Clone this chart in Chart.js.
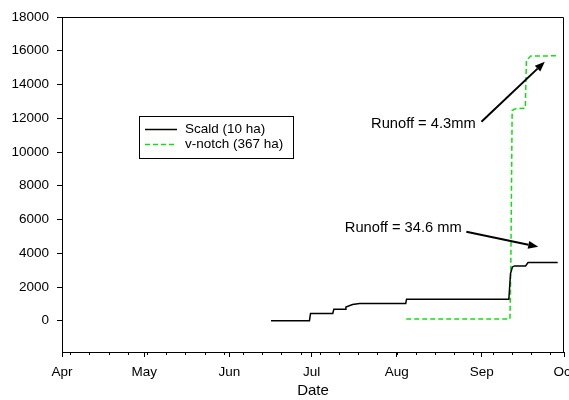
<!DOCTYPE html>
<html>
<head>
<meta charset="utf-8">
<script src="https://cdn.jsdelivr.net/npm/chart.js@4.4.1/dist/chart.umd.min.js"></script>
<style>
  html, body { margin: 0; padding: 0; background: #fff; }
</style>
</head>
<body>
<canvas id="chart" width="569" height="400"></canvas>
<script>
// x values are days counted from 1 April
const monthDays = [0, 30, 61, 91, 122, 153, 183];
const monthLabels = ['Apr', 'May', 'Jun', 'Jul', 'Aug', 'Sep', 'Oct'];
const weekDays = [3, 10, 17, 24, 31, 38, 45, 52, 59, 66, 73, 80, 87, 94, 101, 108, 115, 122, 129, 136, 143, 150, 157, 164, 171, 178];
const yTicks = [0, 2000, 4000, 6000, 8000, 10000, 12000, 14000, 16000, 18000];

const scaldDays   = [76.2, 90.2, 90.6, 98.7, 99.1, 103.2, 103.5, 105.9, 108.5, 125.3, 125.6, 162.9, 163.5, 164.2, 165.0, 169.0, 169.9, 180.7];
const scaldVolume = [0,    0,    430,  430,  680,  680,   820,   960,   1020,  1020,  1275,  1275,  2800,  3190,  3250,  3250,  3450,  3450];

const vnotchDays   = [125.5, 163.3, 163.6, 164.1, 165.3, 168.9, 169.3, 170.9, 180.9];
const vnotchVolume = [100,   100,   3000,  12460, 12560, 12600, 15430, 15690, 15700];

const notes = [
  { text: 'Runoff = 4.3mm',   at: [150.8, 11650], from: [152.9, 11790], to: [176.0, 15350] },
  { text: 'Runoff = 34.6 mm', at: [145.7, 5530],  from: [147.4, 5270],  to: [173.6, 4380] },
];

const FONT = '"Liberation Sans", Arial, sans-serif';

function pts(xs, ys) {
  return xs.map((x, i) => ({ x: x, y: ys[i] }));
}

function arrow(ctx, x1, y1, x2, y2) {
  const ang = Math.atan2(y2 - y1, x2 - x1);
  const len = 10, half = 4;
  const bx = x2 - len * Math.cos(ang), by = y2 - len * Math.sin(ang);
  ctx.beginPath();
  ctx.moveTo(x1, y1);
  ctx.lineTo(bx, by);
  ctx.stroke();
  ctx.beginPath();
  ctx.moveTo(x2, y2);
  ctx.lineTo(bx + half * Math.sin(ang), by - half * Math.cos(ang));
  ctx.lineTo(bx - half * Math.sin(ang), by + half * Math.cos(ang));
  ctx.closePath();
  ctx.fill();
}

const overlay = {
  id: 'overlay',
  afterDatasetsDraw(chart) {
    const { ctx, chartArea: a, scales: { x, y } } = chart;
    ctx.save();
    ctx.strokeStyle = '#000';
    ctx.fillStyle = '#000';
    ctx.lineWidth = 1;

    // top and right frame
    ctx.beginPath();
    ctx.moveTo(a.left, a.top + 0.5);
    ctx.lineTo(a.right - 0.5, a.top + 0.5);
    ctx.lineTo(a.right - 0.5, a.bottom);
    ctx.stroke();

    // minor weekly ticks
    ctx.beginPath();
    weekDays.forEach(d => {
      const px = Math.round(x.getPixelForValue(d)) + 0.5;
      ctx.moveTo(px, a.bottom);
      ctx.lineTo(px, a.bottom + 3);
    });
    ctx.stroke();

    // runoff notes
    ctx.font = '14.7px ' + FONT;
    ctx.textAlign = 'right';
    ctx.textBaseline = 'middle';
    ctx.lineWidth = 2;
    notes.forEach(n => {
      ctx.fillText(n.text, x.getPixelForValue(n.at[0]), y.getPixelForValue(n.at[1]));
      arrow(ctx,
        x.getPixelForValue(n.from[0]), y.getPixelForValue(n.from[1]),
        x.getPixelForValue(n.to[0]), y.getPixelForValue(n.to[1]));
    });

    // legend box
    const lx = a.left + 77, ly = a.top + 99, lw = 154, lh = 42;
    ctx.lineWidth = 1;
    ctx.fillStyle = '#fff';
    ctx.fillRect(lx, ly, lw, lh);
    ctx.strokeStyle = '#000';
    ctx.strokeRect(lx + 0.5, ly + 0.5, lw, lh);
    ctx.font = '13.5px ' + FONT;
    ctx.textAlign = 'left';
    chart.data.datasets.forEach((ds, i) => {
      const rowY = ly + 13.5 + i * 15;
      ctx.strokeStyle = ds.borderColor;
      ctx.lineWidth = ds.borderWidth;
      ctx.setLineDash(ds.borderDash || []);
      ctx.beginPath();
      ctx.moveTo(lx + 6, rowY);
      ctx.lineTo(lx + 38, rowY);
      ctx.stroke();
      ctx.setLineDash([]);
      ctx.fillStyle = '#000';
      ctx.fillText(ds.label, lx + 46, rowY);
    });
    ctx.restore();
  }
};

const ctx = document.getElementById('chart').getContext('2d');
const chart = new Chart(ctx, {
  type: 'line',
  data: {
    datasets: [
      {
        label: 'Scald (10 ha)',
        data: pts(scaldDays, scaldVolume),
        borderColor: '#000000',
        borderWidth: 1.5,
        pointRadius: 0,
        tension: 0,
      },
      {
        label: 'v-notch (367 ha)',
        data: pts(vnotchDays, vnotchVolume),
        borderColor: '#10e010',
        borderWidth: 1.5,
        borderDash: [5, 3],
        pointRadius: 0,
        tension: 0,
      },
    ],
  },
  options: {
    responsive: false,
    animation: false,
    devicePixelRatio: 1,
    layout: { padding: { top: 17, right: 5, left: 0, bottom: 0 } },
    plugins: { legend: { display: false }, tooltip: { enabled: false } },
    scales: {
      x: {
        type: 'linear',
        min: 0,
        max: 183,
        afterBuildTicks: s => { s.ticks = monthDays.map(v => ({ value: v })); },
        afterFit: s => { s.height = 48; s.paddingLeft = 0; s.paddingRight = 0; },
        ticks: {
          autoSkip: false,
          maxRotation: 0,
          padding: 7,
          color: '#000',
          font: { family: FONT, size: 13.5 },
          callback: (v, i) => monthLabels[i],
        },
        grid: { drawOnChartArea: false, tickLength: 5, tickColor: '#000' },
        border: { color: '#000', width: 1 },
        title: {
          display: true,
          text: 'Date',
          color: '#000',
          font: { family: FONT, size: 15 },
          padding: { top: 0, bottom: 0 },
        },
      },
      y: {
        min: -1850,
        max: 18000,
        afterBuildTicks: s => { s.ticks = yTicks.map(v => ({ value: v })); },
        afterFit: s => { s.width = 62; s.paddingTop = 0; s.paddingBottom = 0; },
        ticks: {
          padding: 8,
          color: '#000',
          font: { family: FONT, size: 13.5 },
          callback: v => String(v),
        },
        grid: { drawOnChartArea: false, tickLength: 5, tickColor: '#000' },
        border: { color: '#000', width: 1 },
      },
    },
  },
  plugins: [overlay],
});
</script>
</body>
</html>
